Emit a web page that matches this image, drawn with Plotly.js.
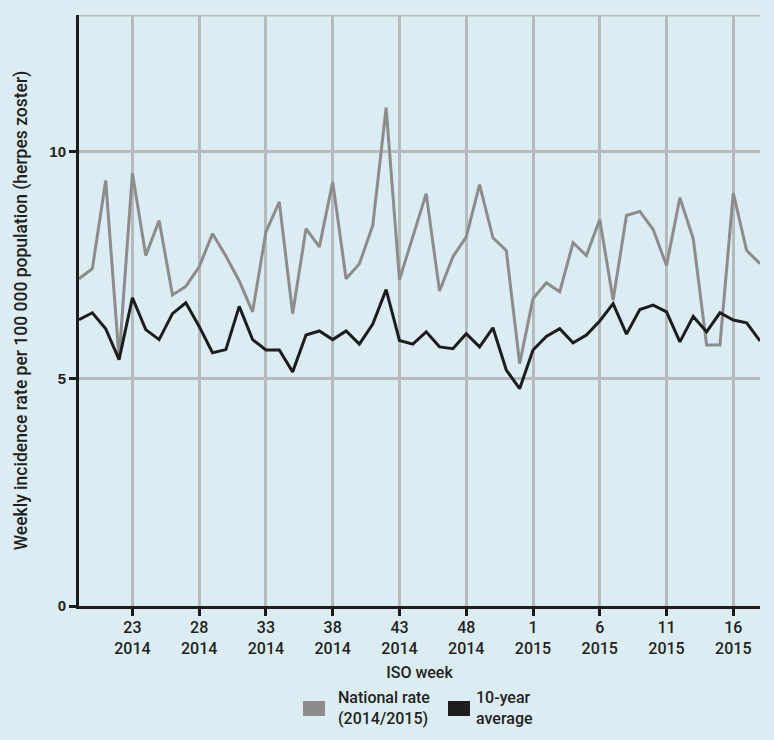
<!DOCTYPE html>
<html>
<head>
<meta charset="utf-8">
<script src="https://cdn.plot.ly/plotly-3.0.1.min.js"></script>
<style>html,body{margin:0;padding:0;background:#dbecf3;}#chart{width:774px;height:740px;}</style>
</head>
<body>
<div id="chart"></div>
<script>
// ISO weeks 19/2014 .. 18/2015 (index 0..51)
const weekIndex = Array.from({length: 52}, (_, i) => i);
const nationalRate = [7.20, 7.42, 9.36, 5.44, 9.52, 7.71, 8.48, 6.84, 7.03, 7.46,
  8.19, 7.70, 7.15, 6.47, 8.23, 8.89, 6.43, 8.30, 7.90, 9.33,
  7.20, 7.53, 8.37, 10.96, 7.18, 8.15, 9.07, 6.93, 7.68, 8.12,
  9.27, 8.10, 7.82, 5.33, 6.76, 7.11, 6.91, 7.99, 7.71, 8.50,
  6.73, 8.59, 8.68, 8.28, 7.49, 8.98, 8.08, 5.74, 5.74, 9.08,
  7.82, 7.53];
const tenYearAverage = [6.30, 6.45, 6.10, 5.42, 6.78, 6.08, 5.86, 6.43, 6.67, 6.15,
  5.57, 5.64, 6.59, 5.86, 5.63, 5.63, 5.15, 5.96, 6.05, 5.86,
  6.05, 5.76, 6.20, 6.96, 5.84, 5.76, 6.03, 5.70, 5.66, 5.99,
  5.70, 6.12, 5.19, 4.78, 5.63, 5.93, 6.10, 5.79, 5.96, 6.27,
  6.65, 5.98, 6.52, 6.62, 6.47, 5.81, 6.37, 6.03, 6.45, 6.29,
  6.23, 5.83];
const tickPositions = [4, 9, 14, 19, 24, 29, 34, 39, 44, 49];
const tickLabels = ['23<br>2014', '28<br>2014', '33<br>2014', '38<br>2014', '43<br>2014',
  '48<br>2014', '1<br>2015', '6<br>2015', '11<br>2015', '16<br>2015'];
const yTicks = [0, 5, 10];
const seriesNames = ['National rate<br>(2014/2015)', '10-year<br>average'];

const txtFont = 'Roboto, "Noto Sans", sans-serif';
const txtColor = '#231f20';
const bg = '#dbecf3';
const grid = '#b7babd';
const grayLine = '#8c8c8c';
const blackLine = '#1d1d1d';

const traces = [
  {x: weekIndex, y: nationalRate, type: 'scatter', mode: 'lines', name: seriesNames[0],
   line: {color: grayLine, width: 3}, showlegend: false},
  {x: weekIndex, y: tenYearAverage, type: 'scatter', mode: 'lines', name: seriesNames[1],
   line: {color: blackLine, width: 3}, showlegend: false}
];

const layout = {
  width: 774, height: 740,
  margin: {l: 79, r: 14, t: 15, b: 134},
  paper_bgcolor: bg, plot_bgcolor: bg,
  showlegend: false,
  xaxis: {
    range: [0, 51], tickmode: 'array', tickvals: tickPositions, ticktext: tickLabels,
    showgrid: true, gridcolor: grid, gridwidth: 3,
    showline: true, linecolor: '#1d1d1d', linewidth: 3,
    ticks: 'outside', ticklen: 7, tickwidth: 3, tickcolor: '#1d1d1d',
    tickfont: {family: txtFont, size: 16, color: txtColor, weight: 500},
    ticklabelstandoff: -2,
    zeroline: false, fixedrange: true,
    title: {text: 'ISO week', font: {family: txtFont, size: 16, color: txtColor, weight: 500}, standoff: 10}
  },
  yaxis: {
    range: [0, 13], tickmode: 'array', tickvals: yTicks,
    showgrid: true, gridcolor: grid, gridwidth: 3,
    showline: true, linecolor: '#1d1d1d', linewidth: 3,
    ticks: 'outside', ticklen: 7, tickwidth: 3, tickcolor: '#1d1d1d',
    tickfont: {family: '"Liberation Sans", Arial, sans-serif', size: 15, color: txtColor, weight: 'bold'},
    zeroline: false, fixedrange: true,
    title: {text: 'Weekly incidence rate per 100 000 population (herpes zoster)',
      font: {family: txtFont, size: 17.5, color: txtColor, weight: 500}, standoff: 18}
  },
  shapes: [
    {type: 'line', xref: 'x', yref: 'y', x0: 0, x1: 51, y0: 13, y1: 13,
     line: {color: grid, width: 3}, layer: 'below'},
    {type: 'rect', xref: 'paper', yref: 'paper',
     x0: (303 - 79) / 681, x1: (325 - 79) / 681, y0: -(716 - 606) / 591, y1: -(701 - 606) / 591,
     fillcolor: grayLine, line: {width: 0}},
    {type: 'rect', xref: 'paper', yref: 'paper',
     x0: (448 - 79) / 681, x1: (470 - 79) / 681, y0: -(716 - 606) / 591, y1: -(701 - 606) / 591,
     fillcolor: blackLine, line: {width: 0}}
  ],
  annotations: [
    {xref: 'paper', yref: 'paper', x: (336 - 79) / 681, y: -(708 - 606) / 591,
     xanchor: 'left', yanchor: 'middle', align: 'left', showarrow: false,
     text: seriesNames[0], font: {family: txtFont, size: 16, color: txtColor, weight: 500}},
    {xref: 'paper', yref: 'paper', x: (474 - 79) / 681, y: -(708 - 606) / 591,
     xanchor: 'left', yanchor: 'middle', align: 'left', showarrow: false,
     text: seriesNames[1], font: {family: txtFont, size: 16, color: txtColor, weight: 500}}
  ]
};

Plotly.newPlot('chart', traces, layout, {displayModeBar: false, staticPlot: true});
</script>
</body>
</html>
